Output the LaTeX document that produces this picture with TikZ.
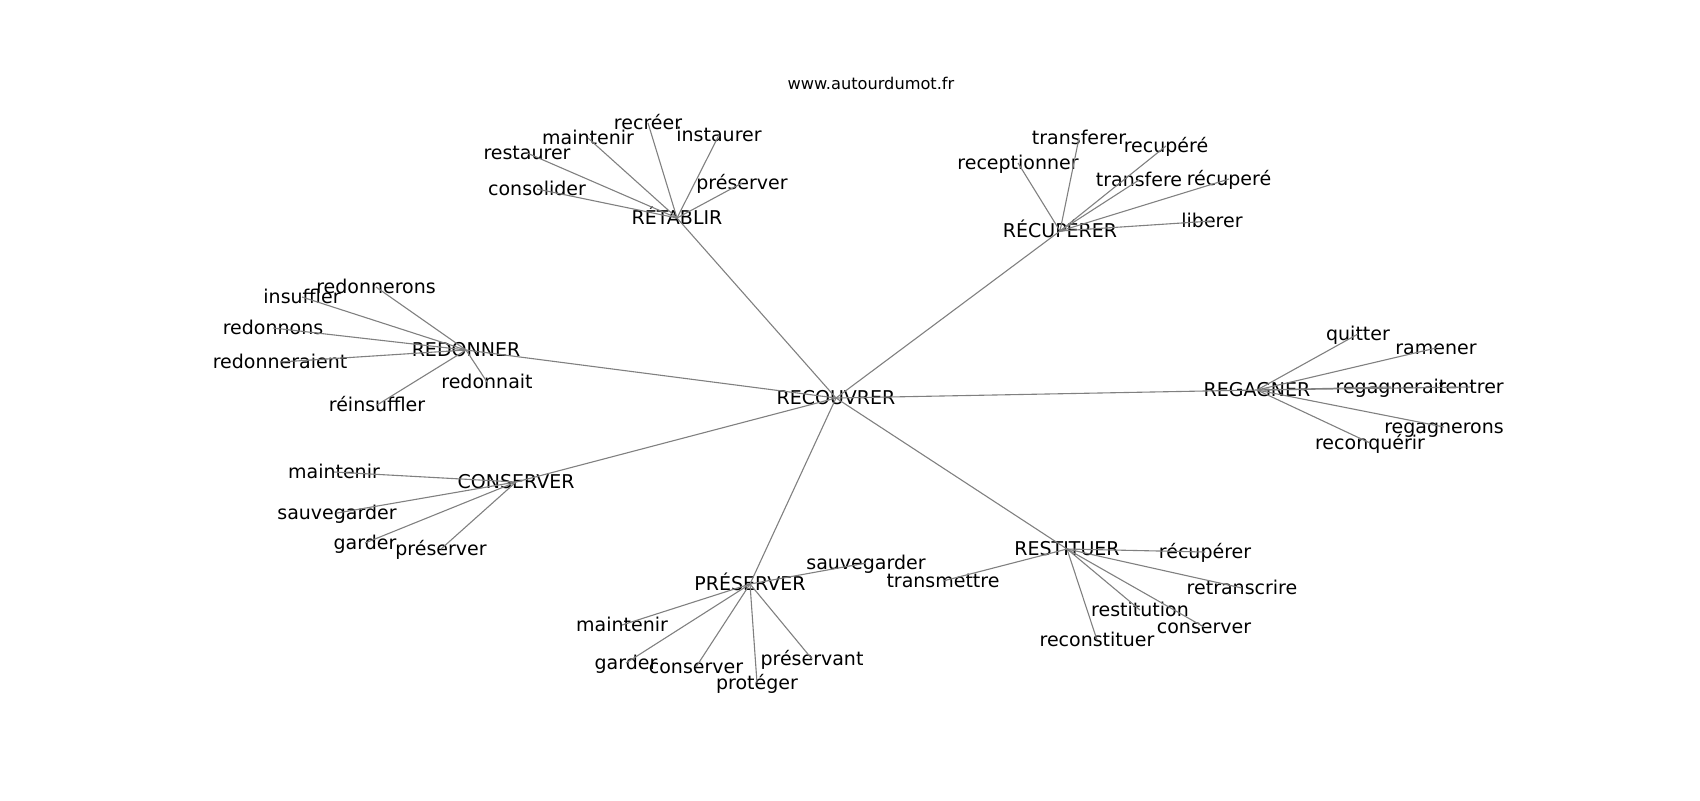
\documentclass[tikz,border=0pt]{standalone}
\usepackage{fontspec}
\setmainfont{DejaVu Sans}
\begin{document}
\begin{tikzpicture}[x=0.5pt,y=-0.5pt,
  lbl/.style={inner sep=0pt,font=\fontsize{9.5pt}{11pt}\selectfont,text height=0.93em,text depth=0.24em},
  ttl/.style={inner sep=0pt,font=\fontsize{8.1pt}{10pt}\selectfont},
  edge/.style={draw=black!50,line width=0.55pt}]
\useasboundingbox (0,0) rectangle (1700,800);
\node[ttl] (title) at (871,83) {www.autourdumot.fr};
% hubs
\node[lbl] (rec) at (836,398) {RECOUVRER};
\node[lbl] (ret) at (677,218) {RÉTABLIR};
\node[lbl] (recu) at (1060,231) {RÉCUPÉRER};
\node[lbl] (red) at (466,350) {REDONNER};
\node[lbl] (reg) at (1257,390) {REGAGNER};
\node[lbl] (con) at (516,482) {CONSERVER};
\node[lbl] (pre) at (750,584) {PRÉSERVER};
\node[lbl] (res) at (1067,549) {RESTITUER};
% RETABLIR leaves
\node[lbl] (a1) at (648,123) {recréer};
\node[lbl] (a2) at (588,138) {maintenir};
\node[lbl] (a3) at (719,135) {instaurer};
\node[lbl] (a4) at (527,153) {restaurer};
\node[lbl] (a5) at (537,189) {consolider};
\node[lbl] (a6) at (742,183) {préserver};
% RECUPERER leaves
\node[lbl] (b1) at (1079,138) {transferer};
\node[lbl] (b2) at (1166,146) {recupéré};
\node[lbl] (b3) at (1018,163) {receptionner};
\node[lbl] (b4) at (1139,180) {transfere};
\node[lbl] (b5) at (1229,179) {récuperé};
\node[lbl] (b6) at (1212,221) {liberer};
% REDONNER leaves
\node[lbl] (c1) at (376,287) {redonnerons};
\node[lbl] (c2) at (302,297) {insuffler};
\node[lbl] (c3) at (273,328) {redonnons};
\node[lbl] (c4) at (280,362) {redonneraient};
\node[lbl] (c5) at (487,382) {redonnait};
\node[lbl] (c6) at (377,405) {réinsuffler};
% REGAGNER leaves
\node[lbl] (d1) at (1358,334) {quitter};
\node[lbl] (d2) at (1436,348) {ramener};
\node[lbl] (d3) at (1391,387) {regagnerait};
\node[lbl] (d4) at (1471,387) {rentrer};
\node[lbl] (d5) at (1444,427) {regagnerons};
\node[lbl] (d6) at (1370,443) {reconquérir};
% CONSERVER leaves
\node[lbl] (e1) at (334,472) {maintenir};
\node[lbl] (e2) at (337,513) {sauvegarder};
\node[lbl] (e3) at (365,543) {garder};
\node[lbl] (e4) at (441,549) {préserver};
% PRESERVER leaves
\node[lbl] (f1) at (866,563) {sauvegarder};
\node[lbl] (f2) at (622,625) {maintenir};
\node[lbl] (f3) at (626,663) {garder};
\node[lbl] (f4) at (696,667) {conserver};
\node[lbl] (f5) at (757,683) {protéger};
\node[lbl] (f6) at (812,659) {préservant};
% RESTITUER leaves
\node[lbl] (g0) at (943,581) {transmettre};
\node[lbl] (g1) at (1205,552) {récupérer};
\node[lbl] (g2) at (1242,588) {retranscrire};
\node[lbl] (g3) at (1140,610) {restitution};
\node[lbl] (g4) at (1204,627) {conserver};
\node[lbl] (g5) at (1097,640) {reconstituer};
% edges
\foreach \h in {ret,recu,red,reg,con,pre,res}
  \draw[edge] (rec.center) -- (\h.center);
\foreach \l in {a1,a2,a3,a4,a5,a6}
  \draw[edge] (ret.center) -- (\l.center);
\foreach \l in {b1,b2,b3,b4,b5,b6}
  \draw[edge] (recu.center) -- (\l.center);
\foreach \l in {c1,c2,c3,c4,c5,c6}
  \draw[edge] (red.center) -- (\l.center);
\foreach \l in {d1,d2,d3,d4,d5,d6}
  \draw[edge] (reg.center) -- (\l.center);
\foreach \l in {e1,e2,e3,e4}
  \draw[edge] (con.center) -- (\l.center);
\foreach \l in {f1,f2,f3,f4,f5,f6}
  \draw[edge] (pre.center) -- (\l.center);
\foreach \l in {g0,g1,g2,g3,g4,g5}
  \draw[edge] (res.center) -- (\l.center);
\end{tikzpicture}
\end{document}
